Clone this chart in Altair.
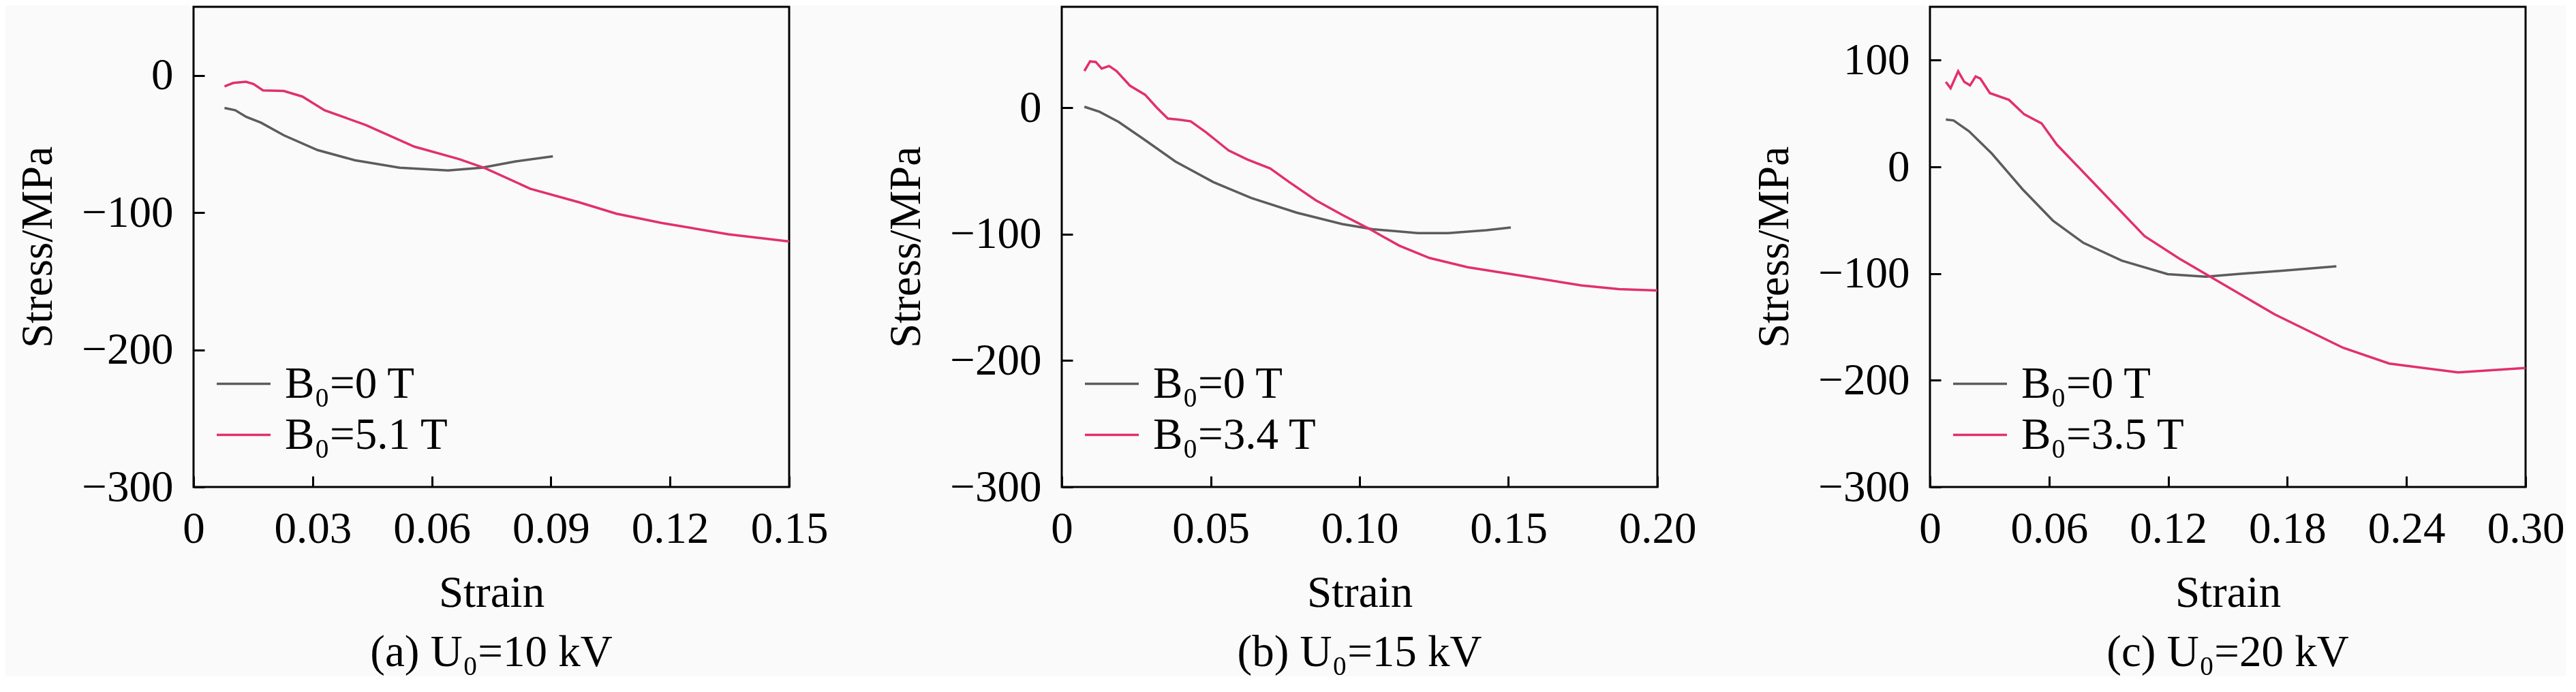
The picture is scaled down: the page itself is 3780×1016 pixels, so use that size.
import altair as alt
import pandas as pd

# ---------------- data ----------------
# Panel (a) U0 = 10 kV
A_STRAIN_B0 = [0.0078, 0.0105, 0.0133, 0.0170, 0.0227, 0.0312, 0.0406, 0.0519, 0.0641, 0.0726, 0.0811, 0.0905]
A_STRESS_B0 = [-23.7, -25.4, -30.3, -34.5, -43.6, -54.4, -61.8, -67.3, -69.3, -67.3, -62.7, -59.0]
A_STRAIN_B1 = [0.0078, 0.0100, 0.0132, 0.0151, 0.0175, 0.0227, 0.0274, 0.0330, 0.0434, 0.0556, 0.0669,
               0.0735, 0.0848, 0.0971, 0.1065, 0.1178, 0.1347, 0.1500]
A_STRESS_B1 = [-8.0, -5.5, -4.6, -6.3, -10.9, -11.3, -15.4, -25.4, -36.2, -51.9, -61.0,
               -67.7, -82.6, -92.5, -100.8, -107.5, -115.8, -121.0]

# Panel (b) U0 = 15 kV
B_STRAIN_B0 = [0.0076, 0.0127, 0.0191, 0.0280, 0.0382, 0.0509, 0.0636, 0.0789, 0.0942, 0.1044, 0.1196,
               0.1298, 0.1426, 0.1508]
B_STRESS_B0 = [0.9, -3.1, -11.1, -25.5, -42.5, -58.7, -71.3, -82.9, -91.9, -96.0, -99.1,
               -99.1, -96.8, -94.6]
B_STRAIN_B1 = [0.0076, 0.0095, 0.0114, 0.0134, 0.0159, 0.0184, 0.0229, 0.0280, 0.0318, 0.0356, 0.0395,
               0.0433, 0.0484, 0.0560, 0.0623, 0.0700, 0.0764, 0.0853, 0.0942, 0.1031, 0.1133,
               0.1235, 0.1362, 0.1553, 0.1744, 0.1871, 0.2000]
B_STRESS_B1 = [29.2, 36.8, 36.4, 31.1, 33.2, 29.2, 17.6, 10.4, 0.5, -8.4, -9.3,
               -10.6, -19.2, -33.6, -40.8, -47.9, -58.7, -73.1, -84.7, -95.5, -109.0,
               -118.8, -126.0, -133.2, -140.4, -143.4, -144.5]

# Panel (c) U0 = 20 kV
C_STRAIN_B0 = [0.0080, 0.0119, 0.0196, 0.0311, 0.0466, 0.0619, 0.0773, 0.0966, 0.1197, 0.1389, 0.1543,
               0.1774, 0.2047]
C_STRESS_B0 = [44.4, 43.5, 33.5, 12.6, -20.9, -50.3, -71.2, -87.9, -100.5, -103.0, -100.5,
               -97.4, -93.2]
C_STRAIN_B1 = [0.0080, 0.0104, 0.0142, 0.0173, 0.0202, 0.0230, 0.0254, 0.0302, 0.0398, 0.0475, 0.0562,
               0.0639, 0.0812, 0.1081, 0.1255, 0.1428, 0.1736, 0.2082, 0.2313, 0.2660, 0.3000]
C_STRESS_B1 = [79.6, 73.7, 89.6, 79.6, 76.4, 84.8, 82.7, 69.1, 62.8, 49.2, 40.8,
               20.9, -12.6, -64.9, -85.9, -104.7, -138.2, -169.6, -184.3, -192.6, -188.4]

LABELS_A = ["B\u2080=0 T", "B\u2080=5.1 T"]
LABELS_B = ["B\u2080=0 T", "B\u2080=3.4 T"]
LABELS_C = ["B\u2080=0 T", "B\u2080=3.5 T"]

CAPTIONS = ["(a) U\u2080=10 kV", "(b) U\u2080=15 kV", "(c) U\u2080=20 kV"]

XTICKS_A = [0, 0.03, 0.06, 0.09, 0.12, 0.15]
XTICKS_B = [0, 0.05, 0.10, 0.15, 0.20]
XTICKS_C = [0, 0.06, 0.12, 0.18, 0.24, 0.30]
YTICKS_A = [-300, -200, -100, 0]
YTICKS_B = [-300, -200, -100, 0]
YTICKS_C = [-300, -200, -100, 0, 100]

GRAY = "#5c5c5c"
PINK = "#e2306a"
FONT = "Liberation Serif, Times New Roman, serif"
FS = 65
W, H = 874, 705


def frame(s0, y0, s1, y1, labels):
    rows = []
    for s, v in zip(s0, y0):
        rows.append({"strain": s, "stress": v, "series": labels[0]})
    for s, v in zip(s1, y1):
        rows.append({"strain": s, "stress": v, "series": labels[1]})
    return pd.DataFrame(rows)


def panel(df, labels, xmax, xticks, ymax, yticks, caption):
    x_axis = alt.Axis(
        values=xticks, title="Strain", grid=False, domain=False,
        labelExpr="datum.value == 0 ? '0' : format(datum.value, '.2f')",
        labelFont=FONT, labelFontSize=FS, labelColor="black", labelPadding=30,
        labelFlush=False, labelOverlap=False,
        tickSize=16, tickWidth=3, tickColor="black", offset=-16,
        titleFont=FONT, titleFontSize=FS, titleFontWeight="normal", titleColor="black",
        titlePadding=30,
    )
    y_axis = alt.Axis(
        values=yticks, title="Stress/MPa", grid=False, domain=False,
        labelExpr="replace(format(datum.value, 'd'), '-', '\u2212')",
        labelFont=FONT, labelFontSize=FS, labelColor="black", labelPadding=30,
        labelFlush=False, labelOverlap=False,
        tickSize=16, tickWidth=3, tickColor="black", offset=-16,
        titleFont=FONT, titleFontSize=FS, titleFontWeight="normal", titleColor="black",
        titlePadding=30,
    )
    legend = alt.Legend(
        title=None, orient="none", legendX=32, legendY=512,
        symbolType="stroke", symbolSize=6241, symbolStrokeWidth=3.5,
        labelFont=FONT, labelFontSize=FS, labelColor="black", labelOffset=19,
        labelLimit=1000, rowPadding=0, padding=0,
    )
    return alt.Chart(df).mark_line(strokeWidth=3.5).encode(
        x=alt.X("strain:Q", scale=alt.Scale(domain=[0, xmax], nice=False, zero=False), axis=x_axis),
        y=alt.Y("stress:Q", scale=alt.Scale(domain=[-300, ymax], nice=False, zero=False), axis=y_axis),
        color=alt.Color("series:N", scale=alt.Scale(domain=labels, range=[GRAY, PINK]), legend=legend),
    ).properties(
        width=W, height=H,
        title=alt.TitleParams(
            caption, orient="bottom", anchor="middle", frame="group", offset=24,
            baseline="top", font=FONT, fontSize=FS, fontWeight="normal", color="black",
        ),
    )


pa = panel(frame(A_STRAIN_B0, A_STRESS_B0, A_STRAIN_B1, A_STRESS_B1, LABELS_A), LABELS_A,
           0.15, XTICKS_A, 50, YTICKS_A, CAPTIONS[0])
pb = panel(frame(B_STRAIN_B0, B_STRESS_B0, B_STRAIN_B1, B_STRESS_B1, LABELS_B), LABELS_B,
           0.20, XTICKS_B, 80, YTICKS_B, CAPTIONS[1])
pc = panel(frame(C_STRAIN_B0, C_STRESS_B0, C_STRAIN_B1, C_STRESS_B1, LABELS_C), LABELS_C,
           0.30, XTICKS_C, 150, YTICKS_C, CAPTIONS[2])

chart = alt.hconcat(pa, pb, pc, spacing=400, bounds="flush").resolve_scale(
    x="independent", y="independent", color="independent"
).properties(
    background="#fafafa",
    padding={"left": 14, "top": 0, "right": 0, "bottom": 0},
).configure_view(stroke="black", strokeWidth=3)

chart.save("out.html", embed_options={"renderer": "svg", "actions": False})
